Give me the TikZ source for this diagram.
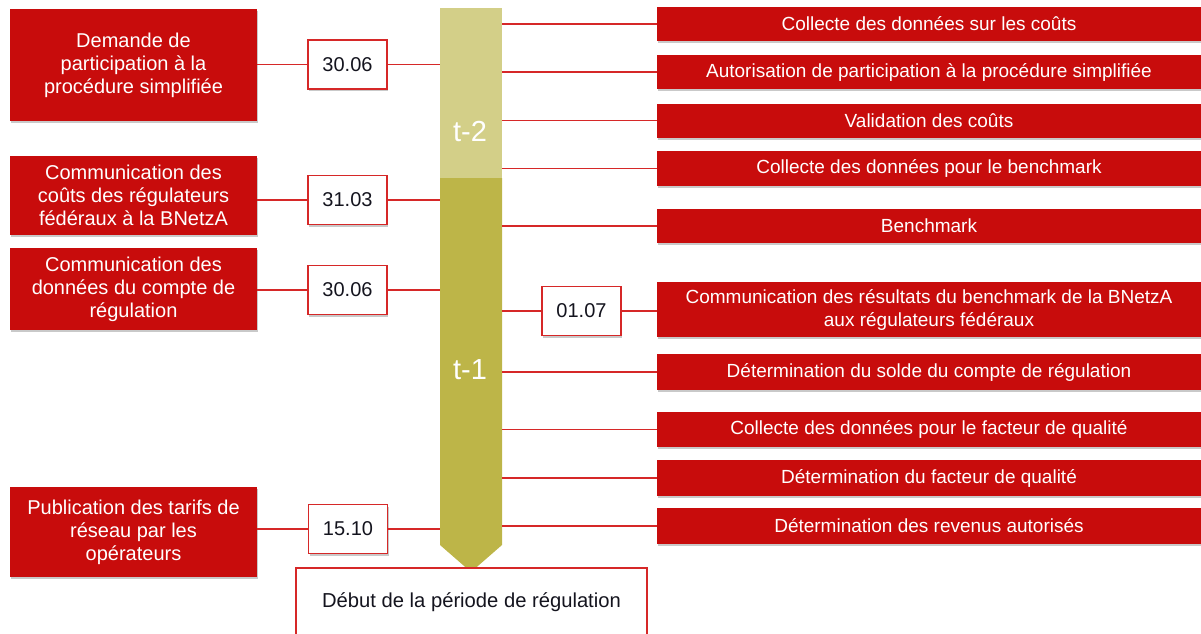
\documentclass[tikz,border=0pt]{standalone}
\usepackage{fontspec}
\setmainfont{Liberation Sans}
\usetikzlibrary{shadows}
\definecolor{boxred}{RGB}{200,12,12}
\definecolor{linered}{RGB}{214,40,40}
\definecolor{lightbar}{RGB}{211,207,136}
\definecolor{darkbar}{RGB}{189,181,72}
\definecolor{datetext}{RGB}{20,20,30}
\begin{document}
\begin{tikzpicture}[x=1pt,y=-1pt,
  shade/.style={drop shadow={shadow xshift=1.2pt,shadow yshift=-2pt,opacity=0.3,fill=black!70}},
  lbox/.style={shade,fill=boxred,text=white,align=center,inner sep=2pt,
    minimum width=247pt,font=\fontsize{20}{23}\selectfont},
  rbox/.style={shade,fill=boxred,text=white,align=center,inner sep=1pt,
    minimum width=544pt,font=\fontsize{19}{23}\selectfont},
  datebox/.style={shade,draw=linered,line width=1.2pt,fill=white,text=datetext,
    minimum width=79pt,minimum height=49pt,inner sep=0pt,font=\fontsize{20}{23}\selectfont},
  conn/.style={draw=linered,line width=1.1pt},
  barlabel/.style={text=white,font=\fontsize{29}{31}\selectfont,inner sep=0pt}
]
\useasboundingbox (0,0) rectangle (1201,633);

% timeline bar
\node[minimum width=62pt,minimum height=537pt,inner sep=0pt] (bar) at (471,276.5) {};
\fill[lightbar] (440,8) rectangle (502,178);
\fill[darkbar] (440,178) -- (502,178) -- (502,545) -- (471,572) -- (440,545) -- cycle;
\node[barlabel] (t2) at (470,131) {t-2};
\node[barlabel] (t1) at (470,370) {t-1};

% left boxes
\node[lbox,minimum height=112pt] (l1) at (133.5,65) {Demande de\\participation à la\\procédure simplifiée};
\node[lbox,minimum height=79pt] (l2) at (133.5,195.5) {Communication des\\coûts des régulateurs\\fédéraux à la BNetzA};
\node[lbox,minimum height=82pt] (l3) at (133.5,289) {Communication des\\données du compte de\\régulation};
\node[lbox,minimum height=90pt] (l4) at (133.5,532) {Publication des tarifs de\\réseau par les\\opérateurs};

% left date boxes
\node[datebox] (d1) at (347.5,64.5) {30.06};
\node[datebox] (d2) at (347.5,200) {31.03};
\node[datebox] (d3) at (347.5,290) {30.06};
\node[datebox] (d4) at (348,529) {15.10};

% right boxes
\node[rbox,minimum height=34pt] (r1) at (929,24) {Collecte des données sur les coûts};
\node[rbox,minimum height=34pt] (r2) at (929,72) {Autorisation de participation à la procédure simplifiée};
\node[rbox,minimum height=34pt] (r3) at (929,120.5) {Validation des coûts};
\node[rbox,minimum height=35pt] (r4) at (929,168.5) {Collecte des données pour le benchmark};
\node[rbox,minimum height=34pt] (r5) at (929,226) {Benchmark};
\node[rbox,minimum height=55pt] (r6) at (929,309.5) {Communication des résultats du benchmark de la BNetzA\\aux régulateurs fédéraux};
\node[rbox,minimum height=36pt] (r7) at (929,372) {Détermination du solde du compte de régulation};
\node[rbox,minimum height=35pt] (r8) at (929,429.5) {Collecte des données pour le facteur de qualité};
\node[rbox,minimum height=36pt] (r9) at (929,478) {Détermination du facteur de qualité};
\node[rbox,minimum height=36pt] (r10) at (929,526) {Détermination des revenus autorisés};

% right date box
\node[datebox] (d5) at (581.5,311) {01.07};

% start box
\node[draw=linered,line width=1.2pt,fill=white,text=datetext,minimum width=351pt,
  minimum height=68pt,inner sep=0pt,font=\fontsize{20.2}{23}\selectfont] (start) at (471.5,602) {Début de la période de régulation};

% connectors left
\draw[conn] (l1.east |- d1.west) -- (d1.west);
\draw[conn] (d1.east) -- (d1.east -| bar.west);
\draw[conn] (l2.east |- d2.west) -- (d2.west);
\draw[conn] (d2.east) -- (d2.east -| bar.west);
\draw[conn] (l3.east |- d3.west) -- (d3.west);
\draw[conn] (d3.east) -- (d3.east -| bar.west);
\draw[conn] (l4.east |- d4.west) -- (d4.west);
\draw[conn] (d4.east) -- (d4.east -| bar.west);

% connectors right
\foreach \r in {r1,r2,r3,r4,r5,r7,r8,r9,r10}{
  \draw[conn] (bar.east |- \r.west) -- (\r.west);
}
\draw[conn] (bar.east |- d5.west) -- (d5.west);
\draw[conn] (d5.east) -- (d5.east -| r6.west);
\end{tikzpicture}
\end{document}
